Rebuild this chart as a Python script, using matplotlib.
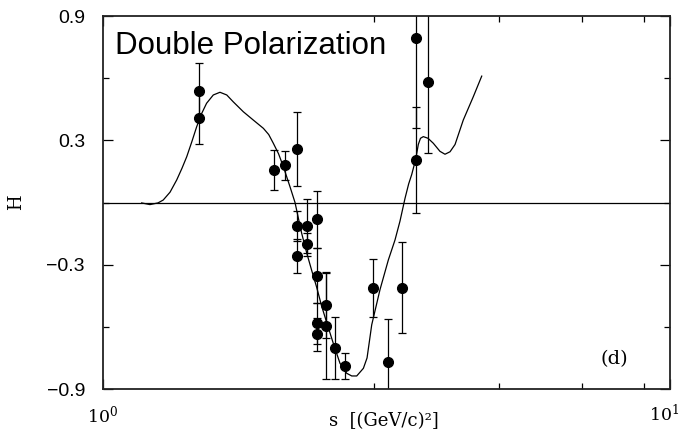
import numpy as np
import matplotlib.pyplot as plt
from matplotlib.ticker import FixedLocator, LogLocator, NullFormatter

plt.rcParams['mathtext.fontset'] = 'dejavuserif'

# model curve H(s)
curve_s = [1.170, 1.210, 1.250, 1.277, 1.313, 1.349, 1.378, 1.405, 1.435, 1.463,
           1.493, 1.523, 1.565, 1.608, 1.653, 1.697, 1.768, 1.841, 1.918, 1.960,
           1.997, 2.040, 2.080, 2.137, 2.181, 2.211, 2.241, 2.288, 2.335, 2.382,
           2.430, 2.481, 2.548, 2.618, 2.690, 2.746, 2.802, 2.879, 2.922, 2.950,
           2.978, 3.080, 3.186, 3.273, 3.340, 3.409, 3.460, 3.503, 3.561, 3.598,
           3.630, 3.672, 3.743, 3.824, 3.929, 4.010, 4.093, 4.177, 4.319, 4.499,
           4.655]
curve_h = [-0.002, -0.010, -0.002, 0.012, 0.050, 0.109, 0.165, 0.221, 0.295, 0.366,
           0.430, 0.479, 0.519, 0.532, 0.519, 0.486, 0.438, 0.398, 0.358, 0.328,
           0.286, 0.235, 0.173, 0.076, 0.000, -0.076, -0.149, -0.245, -0.330, -0.410,
           -0.500, -0.580, -0.680, -0.776, -0.824, -0.837, -0.837, -0.800, -0.750, -0.670,
           -0.590, -0.420, -0.277, -0.181, -0.090, 0.020, 0.090, 0.135, 0.210, 0.280,
           0.310, 0.318, 0.310, 0.286, 0.247, 0.233, 0.245, 0.280, 0.398, 0.511,
           0.610]

# measured points
pts_s = [1.479, 1.479, 2.005, 2.094, 2.196, 2.196, 2.196, 2.288, 2.288, 2.382,
         2.382, 2.382, 2.382, 2.474, 2.474, 2.570, 2.673, 2.990, 3.178, 3.364,
         3.561, 3.561, 3.738]
pts_h = [0.538, 0.408, 0.157, 0.181, 0.260, -0.115, -0.257, -0.112, -0.202, -0.081,
         -0.353, -0.583, -0.635, -0.493, -0.596, -0.704, -0.789, -0.411, -0.771, -0.411,
         0.792, 0.205, 0.580]
pts_err = [0.137, 0.126, 0.095, 0.070, 0.178, 0.073, 0.083, 0.130, 0.055, 0.137,
           0.133, 0.100, 0.080, 0.160, 0.257, 0.150, 0.064, 0.140, 0.210, 0.220,
           0.430, 0.257, 0.343]

xticks_major = [1, 10]
xtick_labels = [r'$10^0$', r'$10^1$']
yticks_major = [-0.9, -0.3, 0.3, 0.9]
yticks_minor = [-0.6, 0.0, 0.6]
ytick_labels = ['\u22120.9', '\u22120.3', '0.3', '0.9']

fig = plt.figure(figsize=(6.83, 4.45), dpi=100)
ax = fig.add_axes([0.1508, 0.1258, 0.8302, 0.8382])

ax.plot(curve_s, curve_h, color='k', lw=0.9)
ax.axhline(0.0, color='k', lw=0.9)
ax.errorbar(pts_s, pts_h, yerr=pts_err, fmt='o', color='k', ms=7,
            elinewidth=0.9, capsize=3, capthick=0.9)

ax.set_xscale('log')
ax.set_xlim(1, 10)
ax.set_ylim(-0.9, 0.9)

ax.xaxis.set_major_locator(FixedLocator(xticks_major))
ax.xaxis.set_minor_locator(LogLocator(base=10, subs=(3, 5, 7, 9)))
ax.xaxis.set_minor_formatter(NullFormatter())
ax.set_xticklabels([])
# decade labels placed by hand so the right one stays inside the figure
for xv, txt, dx in zip(xticks_major, xtick_labels, [0, -4]):
    ax.annotate(txt, xy=(xv, 0), xycoords=('data', 'axes fraction'),
                xytext=(dx, -11), textcoords='offset points',
                ha='center', va='top', fontsize=12.5, annotation_clip=False)

ax.yaxis.set_major_locator(FixedLocator(yticks_major))
ax.yaxis.set_minor_locator(FixedLocator(yticks_minor))
ax.set_yticklabels(ytick_labels, family='Liberation Sans', fontsize=14)

ax.tick_params(which='both', direction='in', top=True, right=True, width=0.9)
ax.tick_params(which='major', length=7)
ax.tick_params(which='minor', length=4.3)
ax.tick_params(axis='y', which='major', pad=13)

for sp in ax.spines.values():
    sp.set_linewidth(1.3)
    sp.set_color('#222222')

ax.set_xlabel('s  [(GeV/c)\u00b2]', family='DejaVu Serif', fontsize=13)
ax.xaxis.set_label_coords(0.496, -0.062)
ax.set_ylabel('H', family='DejaVu Serif', fontsize=13)
ax.yaxis.set_label_coords(-0.138, 0.5)

ax.text(0.021, 0.897, 'Double Polarization', transform=ax.transAxes,
        family='Liberation Sans', fontsize=22.5, va='baseline', ha='left')
ax.text(0.901, 0.08, '(d)', transform=ax.transAxes, family='DejaVu Serif',
        fontsize=14, ha='center', va='center')

fig.savefig('out.png', dpi=100)
